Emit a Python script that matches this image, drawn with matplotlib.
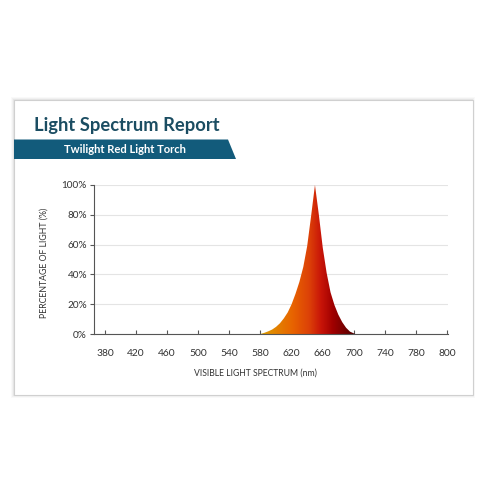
import numpy as np
import matplotlib
matplotlib.use("Agg")
import matplotlib.pyplot as plt
from matplotlib.patches import Rectangle, Polygon
from matplotlib.colors import LinearSegmentedColormap

# ---- data ----
title = "Light Spectrum Report"
subtitle = "Twilight Red Light Torch"
wavelength = [366, 575, 580, 585, 590, 595, 600, 605, 610, 615, 620, 625, 630, 635,
              640, 645, 650, 655, 660, 665, 670, 675, 680, 685, 690, 695, 700, 705, 820]
intensity = [0, 0, 0.0, 0.008, 0.018, 0.03, 0.048, 0.072, 0.105, 0.145, 0.20, 0.27, 0.35, 0.45,
             0.59, 0.79, 1.00, 0.80, 0.58, 0.41, 0.28, 0.195, 0.13, 0.08, 0.042, 0.016, 0.004, 0, 0]
tick_pos = [380, 420, 460, 500, 540, 580, 620, 660, 700, 740, 780, 820]
tick_labels = ["380", "420", "460", "500", "540", "580", "620", "660", "700", "740", "780", "800"]
y_ticks = [0, 0.2, 0.4, 0.6, 0.8, 1.0]
y_tick_labels = ["0%", "20%", "40%", "60%", "80%", "100%"]
grad_pos = [575, 590, 620, 642, 657, 672, 700]
grad_cols = ["#d8a800", "#e09000", "#e86400", "#dc4008", "#c81408", "#a00000", "#500000"]

font = ["Lato", "DejaVu Sans"]
plt.rcParams["font.family"] = font

fig = plt.figure(figsize=(5, 5), dpi=100)
fig.patch.set_facecolor("white")

# card with shadow
for i, a in enumerate([0.10, 0.16, 0.25]):
    d = (3 - i) * 0.0018
    fig.patches.append(Rectangle((0.028 - d, 1 - 0.79 - d), 0.917 + 2 * d, 0.59 + 2 * d,
                                 transform=fig.transFigure, facecolor="#c8c8c8", alpha=a,
                                 edgecolor="none", zorder=0))
fig.patches.append(Rectangle((0.028, 1 - 0.79), 0.917, 0.59, transform=fig.transFigure,
                             facecolor="white", edgecolor="#d0d0d0", linewidth=0.8, zorder=1))

# banner
bx0, bx1t, bx1b = 0.028, 0.456, 0.472
by0, by1 = 1 - 0.318, 1 - 0.279
fig.patches.append(Polygon([(bx0, by0), (bx1b, by0), (bx1t, by1), (bx0, by1)], closed=True,
                           transform=fig.transFigure, facecolor="#125b7b", edgecolor="none", zorder=2))
fig.text(0.128, (by0 + by1) / 2, subtitle, color="white", fontsize=8.1, fontweight="bold",
         va="center", ha="left", zorder=3)
fig.text(0.069, 1 - 0.252, title, color="#1b4d62", fontsize=13.2, fontweight="bold",
         va="center", ha="left", zorder=3)

# axes
ax = fig.add_axes([0.188, 0.332, 0.708, 0.298])
ax.set_facecolor("none")
ax.set_zorder(3)
ax.set_xlim(366, 821)
ax.set_ylim(0, 1.0)

x = np.array(wavelength, dtype=float)
y = np.array(intensity, dtype=float)
cmap = LinearSegmentedColormap.from_list(
    "spec", [((p - grad_pos[0]) / (grad_pos[-1] - grad_pos[0]), c) for p, c in zip(grad_pos, grad_cols)])
grad = np.linspace(0, 1, 512).reshape(1, -1)
im = ax.imshow(grad, extent=[grad_pos[0], grad_pos[-1], 0, 1.0], aspect="auto", cmap=cmap,
               origin="lower", zorder=2, interpolation="bilinear")
clip = Polygon(np.column_stack([np.r_[x, x[::-1]], np.r_[y, np.zeros_like(y)]]), closed=True,
               transform=ax.transData)
im.set_clip_path(clip)

ax.set_yticks(y_ticks)
ax.set_yticklabels(y_tick_labels)
ax.set_xticks(tick_pos)
ax.set_xticklabels(tick_labels)
ax.grid(axis="y", color="#e4e4e4", linewidth=0.8, zorder=0)
ax.set_axisbelow(True)
for s in ["top", "right"]:
    ax.spines[s].set_visible(False)
for s in ["left", "bottom"]:
    ax.spines[s].set_color("#555555")
    ax.spines[s].set_linewidth(0.8)
ax.tick_params(axis="x", direction="in", length=3, color="#555555", labelsize=7.4,
               labelcolor="#333333", pad=11)
ax.tick_params(axis="y", direction="out", length=3, color="#555555", labelsize=7.2,
               labelcolor="#333333", pad=2)
ax.set_xlabel("VISIBLE LIGHT SPECTRUM (nm)", fontsize=6.2, color="#333333")
ax.xaxis.set_label_coords(0.455, -0.235)
ax.set_ylabel("PERCENTAGE OF LIGHT (%)", fontsize=6.3, color="#333333")
ax.yaxis.set_label_coords(-0.128, 0.48)

fig.savefig("out.png", dpi=100, facecolor="white")
